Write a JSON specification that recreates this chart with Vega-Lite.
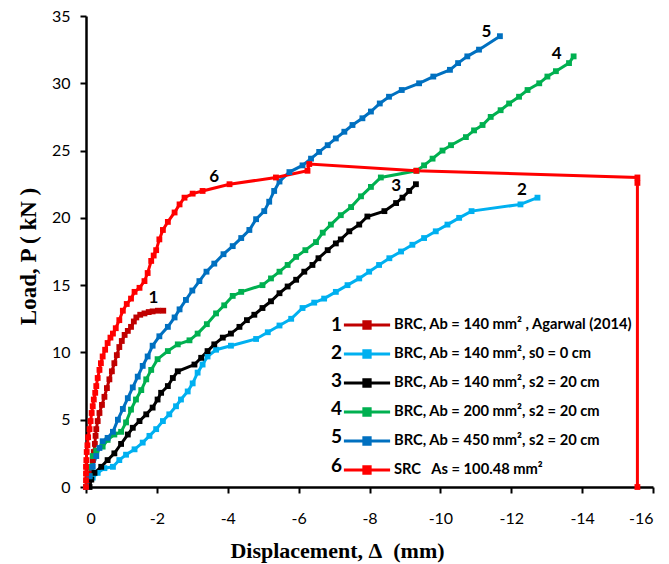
{
  "$schema": "https://vega.github.io/schema/vega-lite/v6.json",
  "autosize": {"type": "none"},
  "padding": {"left": 86, "top": 16, "right": 16, "bottom": 77},
  "width": 567,
  "height": 471,
  "background": "white",
  "config": {
    "view": {"stroke": null},
    "axis": {
      "grid": false, "domainColor": "black", "domainWidth": 2.5,
      "tickColor": "black", "tickWidth": 2, "tickSize": 6,
      "labelFont": "Lato", "labelFontSize": 16, "labelColor": "black",
      "titleFont": "Liberation Serif", "titleFontWeight": "bold", "titleFontSize": 22, "titleColor": "black"
    }
  },
  "datasets": {
    "curves": [
      {"k":"1","i":0,"x":0,"y":0},{"k":"1","i":1,"x":-0.04,"y":0.5},{"k":"1","i":2,"x":-0.09,"y":1.0},{"k":"1","i":3,"x":-0.14,"y":1.5},{"k":"1","i":4,"x":-0.19,"y":2.0},{"k":"1","i":5,"x":-0.22,"y":2.6},{"k":"1","i":6,"x":-0.25,"y":3.2},{"k":"1","i":7,"x":-0.27,"y":3.8},{"k":"1","i":8,"x":-0.29,"y":4.3},{"k":"1","i":9,"x":-0.33,"y":4.9},{"k":"1","i":10,"x":-0.38,"y":5.5},{"k":"1","i":11,"x":-0.45,"y":6.1},{"k":"1","i":12,"x":-0.52,"y":6.7},{"k":"1","i":13,"x":-0.59,"y":7.35},{"k":"1","i":14,"x":-0.66,"y":8.0},{"k":"1","i":15,"x":-0.73,"y":8.6},{"k":"1","i":16,"x":-0.8,"y":9.2},{"k":"1","i":17,"x":-0.87,"y":9.8},{"k":"1","i":18,"x":-0.94,"y":10.4},{"k":"1","i":19,"x":-1.01,"y":10.85},{"k":"1","i":20,"x":-1.09,"y":11.3},{"k":"1","i":21,"x":-1.18,"y":11.6},{"k":"1","i":22,"x":-1.27,"y":11.9},{"k":"1","i":23,"x":-1.35,"y":12.3},{"k":"1","i":24,"x":-1.42,"y":12.6},{"k":"1","i":25,"x":-1.53,"y":12.8},{"k":"1","i":26,"x":-1.65,"y":12.9},{"k":"1","i":27,"x":-1.77,"y":13.0},{"k":"1","i":28,"x":-1.88,"y":13.05},{"k":"1","i":29,"x":-2.03,"y":13.1},{"k":"1","i":30,"x":-2.18,"y":13.1},

      {"k":"2","i":0,"x":0,"y":0},{"k":"2","i":1,"x":-0.19,"y":0.7},{"k":"2","i":2,"x":-0.33,"y":1.05},{"k":"2","i":3,"x":-0.52,"y":1.4},{"k":"2","i":4,"x":-0.76,"y":1.5},{"k":"2","i":5,"x":-0.94,"y":2.0},{"k":"2","i":6,"x":-1.13,"y":2.4},{"k":"2","i":7,"x":-1.37,"y":2.8},{"k":"2","i":8,"x":-1.6,"y":3.3},{"k":"2","i":9,"x":-1.79,"y":3.8},{"k":"2","i":10,"x":-1.98,"y":4.3},{"k":"2","i":11,"x":-2.17,"y":4.9},{"k":"2","i":12,"x":-2.35,"y":5.4},{"k":"2","i":13,"x":-2.54,"y":6.0},{"k":"2","i":14,"x":-2.68,"y":6.5},{"k":"2","i":15,"x":-2.87,"y":7.1},{"k":"2","i":16,"x":-3.01,"y":7.7},{"k":"2","i":17,"x":-3.15,"y":8.5},{"k":"2","i":18,"x":-3.29,"y":9.1},{"k":"2","i":19,"x":-3.43,"y":9.7},{"k":"2","i":20,"x":-3.67,"y":10.2},{"k":"2","i":21,"x":-4.09,"y":10.5},{"k":"2","i":22,"x":-4.8,"y":11.0},{"k":"2","i":23,"x":-5.13,"y":11.5},{"k":"2","i":24,"x":-5.46,"y":12.0},{"k":"2","i":25,"x":-5.79,"y":12.5},{"k":"2","i":26,"x":-6.11,"y":13.3},{"k":"2","i":27,"x":-6.44,"y":13.7},{"k":"2","i":28,"x":-6.72,"y":14.0},{"k":"2","i":29,"x":-7.05,"y":14.5},{"k":"2","i":30,"x":-7.38,"y":15.0},{"k":"2","i":31,"x":-7.71,"y":15.5},{"k":"2","i":32,"x":-7.99,"y":16.0},{"k":"2","i":33,"x":-8.27,"y":16.5},{"k":"2","i":34,"x":-8.56,"y":17.0},{"k":"2","i":35,"x":-8.89,"y":17.5},{"k":"2","i":36,"x":-9.21,"y":18.0},{"k":"2","i":37,"x":-9.54,"y":18.5},{"k":"2","i":38,"x":-9.87,"y":19.0},{"k":"2","i":39,"x":-10.2,"y":19.5},{"k":"2","i":40,"x":-10.53,"y":20.0},{"k":"2","i":41,"x":-10.88,"y":20.5},{"k":"2","i":42,"x":-12.26,"y":21.0},{"k":"2","i":43,"x":-12.74,"y":21.5},

      {"k":"3","i":0,"x":-0.1,"y":0},{"k":"3","i":1,"x":-0.15,"y":0.55},{"k":"3","i":2,"x":-0.24,"y":1.05},{"k":"3","i":3,"x":-0.43,"y":1.5},{"k":"3","i":4,"x":-0.61,"y":2.0},{"k":"3","i":5,"x":-0.8,"y":2.5},{"k":"3","i":6,"x":-0.99,"y":3.2},{"k":"3","i":7,"x":-1.18,"y":3.9},{"k":"3","i":8,"x":-1.32,"y":4.4},{"k":"3","i":9,"x":-1.51,"y":4.9},{"k":"3","i":10,"x":-1.7,"y":5.4},{"k":"3","i":11,"x":-1.88,"y":5.9},{"k":"3","i":12,"x":-2.02,"y":6.5},{"k":"3","i":13,"x":-2.12,"y":7.0},{"k":"3","i":14,"x":-2.31,"y":7.5},{"k":"3","i":15,"x":-2.45,"y":8.1},{"k":"3","i":16,"x":-2.59,"y":8.6},{"k":"3","i":17,"x":-3.06,"y":9.1},{"k":"3","i":18,"x":-3.25,"y":9.6},{"k":"3","i":19,"x":-3.43,"y":10.1},{"k":"3","i":20,"x":-3.62,"y":10.6},{"k":"3","i":21,"x":-3.86,"y":11.1},{"k":"3","i":22,"x":-4.09,"y":11.4},{"k":"3","i":23,"x":-4.33,"y":11.9},{"k":"3","i":24,"x":-4.54,"y":12.4},{"k":"3","i":25,"x":-4.75,"y":12.8},{"k":"3","i":26,"x":-4.98,"y":13.3},{"k":"3","i":27,"x":-5.22,"y":13.8},{"k":"3","i":28,"x":-5.46,"y":14.4},{"k":"3","i":29,"x":-5.69,"y":14.9},{"k":"3","i":30,"x":-5.93,"y":15.4},{"k":"3","i":31,"x":-6.16,"y":16.0},{"k":"3","i":32,"x":-6.39,"y":16.5},{"k":"3","i":33,"x":-6.56,"y":17.0},{"k":"3","i":34,"x":-6.82,"y":17.6},{"k":"3","i":35,"x":-7.05,"y":18.1},{"k":"3","i":36,"x":-7.19,"y":18.4},{"k":"3","i":37,"x":-7.43,"y":19.0},{"k":"3","i":38,"x":-7.71,"y":19.5},{"k":"3","i":39,"x":-7.94,"y":20.1},{"k":"3","i":40,"x":-8.42,"y":20.5},{"k":"3","i":41,"x":-8.75,"y":21.1},{"k":"3","i":42,"x":-8.93,"y":21.5},{"k":"3","i":43,"x":-9.12,"y":22.0},{"k":"3","i":44,"x":-9.31,"y":22.5},

      {"k":"4","i":0,"x":0,"y":0},{"k":"4","i":1,"x":-0.1,"y":0.8},{"k":"4","i":2,"x":-0.15,"y":1.5},{"k":"4","i":3,"x":-0.19,"y":2.3},{"k":"4","i":4,"x":-0.29,"y":2.7},{"k":"4","i":5,"x":-0.47,"y":3.0},{"k":"4","i":6,"x":-0.61,"y":3.5},{"k":"4","i":7,"x":-0.8,"y":3.9},{"k":"4","i":8,"x":-0.99,"y":4.1},{"k":"4","i":9,"x":-1.13,"y":4.8},{"k":"4","i":10,"x":-1.27,"y":5.75},{"k":"4","i":11,"x":-1.41,"y":6.5},{"k":"4","i":12,"x":-1.56,"y":7.2},{"k":"4","i":13,"x":-1.7,"y":8.0},{"k":"4","i":14,"x":-1.84,"y":8.7},{"k":"4","i":15,"x":-2.02,"y":9.5},{"k":"4","i":16,"x":-2.31,"y":10.1},{"k":"4","i":17,"x":-2.59,"y":10.6},{"k":"4","i":18,"x":-2.92,"y":10.9},{"k":"4","i":19,"x":-3.15,"y":11.4},{"k":"4","i":20,"x":-3.41,"y":12.1},{"k":"4","i":21,"x":-3.67,"y":12.9},{"k":"4","i":22,"x":-3.9,"y":13.5},{"k":"4","i":23,"x":-4.14,"y":14.2},{"k":"4","i":24,"x":-4.38,"y":14.5},{"k":"4","i":25,"x":-4.98,"y":15.0},{"k":"4","i":26,"x":-5.22,"y":15.5},{"k":"4","i":27,"x":-5.46,"y":16.0},{"k":"4","i":28,"x":-5.69,"y":16.5},{"k":"4","i":29,"x":-5.93,"y":17.1},{"k":"4","i":30,"x":-6.19,"y":17.6},{"k":"4","i":31,"x":-6.49,"y":18.2},{"k":"4","i":32,"x":-6.68,"y":18.9},{"k":"4","i":33,"x":-6.91,"y":19.5},{"k":"4","i":34,"x":-7.19,"y":20.2},{"k":"4","i":35,"x":-7.48,"y":20.8},{"k":"4","i":36,"x":-7.76,"y":21.6},{"k":"4","i":37,"x":-8.04,"y":22.3},{"k":"4","i":38,"x":-8.32,"y":23.0},{"k":"4","i":39,"x":-9.33,"y":23.5},{"k":"4","i":40,"x":-9.54,"y":23.9},{"k":"4","i":41,"x":-9.78,"y":24.4},{"k":"4","i":42,"x":-10.06,"y":25.0},{"k":"4","i":43,"x":-10.3,"y":25.4},{"k":"4","i":44,"x":-10.72,"y":26.0},{"k":"4","i":45,"x":-10.95,"y":26.5},{"k":"4","i":46,"x":-11.19,"y":26.9},{"k":"4","i":47,"x":-11.42,"y":27.5},{"k":"4","i":48,"x":-11.7,"y":28.0},{"k":"4","i":49,"x":-11.94,"y":28.5},{"k":"4","i":50,"x":-12.22,"y":29.0},{"k":"4","i":51,"x":-12.46,"y":29.5},{"k":"4","i":52,"x":-12.79,"y":30.0},{"k":"4","i":53,"x":-13.02,"y":30.5},{"k":"4","i":54,"x":-13.26,"y":30.9},{"k":"4","i":55,"x":-13.63,"y":31.5},{"k":"4","i":56,"x":-13.76,"y":32.0},

      {"k":"5","i":0,"x":0,"y":0},{"k":"5","i":1,"x":-0.1,"y":0.8},{"k":"5","i":2,"x":-0.19,"y":1.5},{"k":"5","i":3,"x":-0.29,"y":2.3},{"k":"5","i":4,"x":-0.38,"y":2.9},{"k":"5","i":5,"x":-0.47,"y":3.4},{"k":"5","i":6,"x":-0.61,"y":3.65},{"k":"5","i":7,"x":-0.76,"y":4.1},{"k":"5","i":8,"x":-0.9,"y":5.0},{"k":"5","i":9,"x":-1.04,"y":5.8},{"k":"5","i":10,"x":-1.18,"y":6.6},{"k":"5","i":11,"x":-1.32,"y":7.4},{"k":"5","i":12,"x":-1.46,"y":8.2},{"k":"5","i":13,"x":-1.6,"y":9.0},{"k":"5","i":14,"x":-1.74,"y":9.7},{"k":"5","i":15,"x":-1.88,"y":10.5},{"k":"5","i":16,"x":-2.07,"y":11.2},{"k":"5","i":17,"x":-2.31,"y":11.9},{"k":"5","i":18,"x":-2.5,"y":12.6},{"k":"5","i":19,"x":-2.64,"y":13.2},{"k":"5","i":20,"x":-2.82,"y":13.9},{"k":"5","i":21,"x":-3.0,"y":14.6},{"k":"5","i":22,"x":-3.2,"y":15.3},{"k":"5","i":23,"x":-3.4,"y":16.0},{"k":"5","i":24,"x":-3.62,"y":16.6},{"k":"5","i":25,"x":-3.88,"y":17.3},{"k":"5","i":26,"x":-4.14,"y":17.9},{"k":"5","i":27,"x":-4.38,"y":18.5},{"k":"5","i":28,"x":-4.61,"y":19.1},{"k":"5","i":29,"x":-4.8,"y":19.9},{"k":"5","i":30,"x":-5.03,"y":20.5},{"k":"5","i":31,"x":-5.17,"y":21.2},{"k":"5","i":32,"x":-5.31,"y":22.0},{"k":"5","i":33,"x":-5.46,"y":22.7},{"k":"5","i":34,"x":-5.74,"y":23.4},{"k":"5","i":35,"x":-6.11,"y":23.9},{"k":"5","i":36,"x":-6.35,"y":24.4},{"k":"5","i":37,"x":-6.58,"y":24.9},{"k":"5","i":38,"x":-6.82,"y":25.4},{"k":"5","i":39,"x":-7.05,"y":25.9},{"k":"5","i":40,"x":-7.29,"y":26.4},{"k":"5","i":41,"x":-7.52,"y":26.9},{"k":"5","i":42,"x":-7.8,"y":27.4},{"k":"5","i":43,"x":-8.04,"y":27.9},{"k":"5","i":44,"x":-8.29,"y":28.5},{"k":"5","i":45,"x":-8.55,"y":29.0},{"k":"5","i":46,"x":-8.91,"y":29.5},{"k":"5","i":47,"x":-9.4,"y":30.0},{"k":"5","i":48,"x":-9.8,"y":30.5},{"k":"5","i":49,"x":-10.27,"y":31.0},{"k":"5","i":50,"x":-10.5,"y":31.5},{"k":"5","i":51,"x":-10.76,"y":32.0},{"k":"5","i":52,"x":-11.09,"y":32.5},{"k":"5","i":53,"x":-11.68,"y":33.5},

      {"k":"6","i":0,"x":0,"y":0},{"k":"6","i":1,"x":0,"y":0.5},{"k":"6","i":2,"x":0,"y":1.0},{"k":"6","i":3,"x":0,"y":1.5},{"k":"6","i":4,"x":-0.01,"y":2.0},{"k":"6","i":5,"x":-0.02,"y":2.6},{"k":"6","i":6,"x":-0.04,"y":3.1},{"k":"6","i":7,"x":-0.06,"y":3.7},{"k":"6","i":8,"x":-0.1,"y":4.3},{"k":"6","i":9,"x":-0.13,"y":4.9},{"k":"6","i":10,"x":-0.16,"y":5.5},{"k":"6","i":11,"x":-0.19,"y":6.0},{"k":"6","i":12,"x":-0.22,"y":6.5},{"k":"6","i":13,"x":-0.26,"y":7.0},{"k":"6","i":14,"x":-0.29,"y":7.5},{"k":"6","i":15,"x":-0.33,"y":8.1},{"k":"6","i":16,"x":-0.38,"y":8.7},{"k":"6","i":17,"x":-0.42,"y":9.2},{"k":"6","i":18,"x":-0.47,"y":9.7},{"k":"6","i":19,"x":-0.54,"y":10.2},{"k":"6","i":20,"x":-0.61,"y":10.7},{"k":"6","i":21,"x":-0.69,"y":11.1},{"k":"6","i":22,"x":-0.76,"y":11.4},{"k":"6","i":23,"x":-0.84,"y":11.8},{"k":"6","i":24,"x":-0.94,"y":12.4},{"k":"6","i":25,"x":-1.04,"y":13.1},{"k":"6","i":26,"x":-1.15,"y":13.6},{"k":"6","i":27,"x":-1.27,"y":14.0},{"k":"6","i":28,"x":-1.37,"y":14.5},{"k":"6","i":29,"x":-1.51,"y":14.8},{"k":"6","i":30,"x":-1.65,"y":15.3},{"k":"6","i":31,"x":-1.74,"y":15.9},{"k":"6","i":32,"x":-1.84,"y":16.8},{"k":"6","i":33,"x":-1.91,"y":17.2},{"k":"6","i":34,"x":-1.98,"y":17.6},{"k":"6","i":35,"x":-2.07,"y":18.4},{"k":"6","i":36,"x":-2.17,"y":19.1},{"k":"6","i":37,"x":-2.31,"y":19.7},{"k":"6","i":38,"x":-2.5,"y":20.4},{"k":"6","i":39,"x":-2.64,"y":21.0},{"k":"6","i":40,"x":-2.78,"y":21.5},{"k":"6","i":41,"x":-3.01,"y":21.8},{"k":"6","i":42,"x":-3.29,"y":22.0},{"k":"6","i":43,"x":-4.05,"y":22.5},{"k":"6","i":44,"x":-5.36,"y":23.0},{"k":"6","i":45,"x":-6.25,"y":23.5},{"k":"6","i":46,"x":-6.3,"y":24.0},{"k":"6","i":47,"x":-9.32,"y":23.5},{"k":"6","i":48,"x":-15.56,"y":23.0},{"k":"6","i":49,"x":-15.56,"y":22.6},{"k":"6","i":50,"x":-15.56,"y":0}
    ],
    "labels": [
      {"t":"1","x":-1.9,"y":14.05},
      {"t":"2","x":-12.3,"y":22.1},
      {"t":"3","x":-8.75,"y":22.35},
      {"t":"4","x":-13.28,"y":32.2},
      {"t":"5","x":-11.3,"y":33.8},
      {"t":"6","x":-3.62,"y":23.0}
    ]
  },
  "layer": [
    {
      "data": {"name": "curves"},
      "mark": {"type": "line", "strokeWidth": 3},
      "encoding": {
        "x": {
          "field": "x", "type": "quantitative",
          "scale": {"domain": [0, -16], "nice": false, "zero": false},
          "axis": {
            "values": [0, -2, -4, -6, -8, -10, -12, -14, -16],
            "labelExpr": "datum.value == 0 ? '0' : '-' + format(abs(datum.value), 'd')",
            "labelPadding": 17, "labelAngle": 0,
            "title": "Displacement, Δ\u00a0 (mm)",
            "titleX": 251, "titleY": 63, "titleAlign": "center", "titleBaseline": "middle"
          }
        },
        "y": {
          "field": "y", "type": "quantitative",
          "scale": {"domain": [0, 35], "nice": false},
          "axis": {
            "values": [0, 5, 10, 15, 20, 25, 30, 35],
            "labelPadding": 10,
            "title": "Load, P ( kN )",
            "titleFontSize": 23,
            "titleX": -58, "titleY": 240, "titleAngle": 270, "titleAlign": "center", "titleBaseline": "middle"
          }
        },
        "order": {"field": "i", "type": "quantitative"},
        "color": {
          "field": "k", "type": "nominal",
          "scale": {"range": ["#C00000", "#00B0F0", "#000000", "#00B050", "#0070C0", "#FF0000"]},
          "legend": {
            "orient": "none", "legendX": 272.5, "legendY": 300.5, "title": null, "padding": 0,
            "symbolType": "M-3.3,0H3.3M-0.45,-0.45H0.45V0.45H-0.45Z",
            "symbolSize": 196, "symbolStrokeWidth": 3, "symbolOffset": 0,
            "labelOffset": 18.5, "rowPadding": 10,
            "labelFont": "Lato", "labelFontSize": 14.7, "labelFontWeight": "bold", "labelColor": "black",
            "labelLimit": 400,
            "labelExpr": "['BRC, Ab = 140 mm² , Agarwal (2014)','BRC, Ab = 140 mm², s0 = 0 cm','BRC, Ab = 140 mm², s2 = 20 cm','BRC, Ab = 200 mm², s2 = 20 cm','BRC, Ab = 450 mm², s2 = 20 cm','SRC\u00a0\u00a0 As = 100.48 mm²'][toNumber(datum.label) - 1]",
            "encode": {
              "symbols": {"update": {"fill": {"scale": "color", "field": "value"}, "stroke": {"scale": "color", "field": "value"}}}
            }
          }
        }
      }
    },
    {
      "data": {"name": "curves"},
      "mark": {"type": "point", "filled": true, "size": 34, "opacity": 1},
      "encoding": {
        "x": {"field": "x", "type": "quantitative"},
        "y": {"field": "y", "type": "quantitative"},
        "color": {"field": "k", "type": "nominal"},
        "shape": {
          "field": "k", "type": "nominal",
          "scale": {"domain": ["1", "2", "3", "4", "5", "6"], "range": ["square", "square", "square", "square", "square", "square"]},
          "legend": {
            "orient": "none", "legendX": 226, "legendY": 299.5, "title": null, "padding": 0,
            "symbolSize": 0, "symbolOpacity": 0, "labelOffset": 0, "rowPadding": 8.1,
            "labelFont": "Lato", "labelFontSize": 19, "labelFontWeight": "bold", "labelColor": "black"
          }
        }
      }
    },
    {
      "data": {"name": "labels"},
      "mark": {"type": "text", "font": "Lato", "fontSize": 17, "fontWeight": "bold", "color": "black", "baseline": "middle", "align": "center"},
      "encoding": {
        "x": {"field": "x", "type": "quantitative"},
        "y": {"field": "y", "type": "quantitative"},
        "text": {"field": "t"}
      }
    }
  ]
}
